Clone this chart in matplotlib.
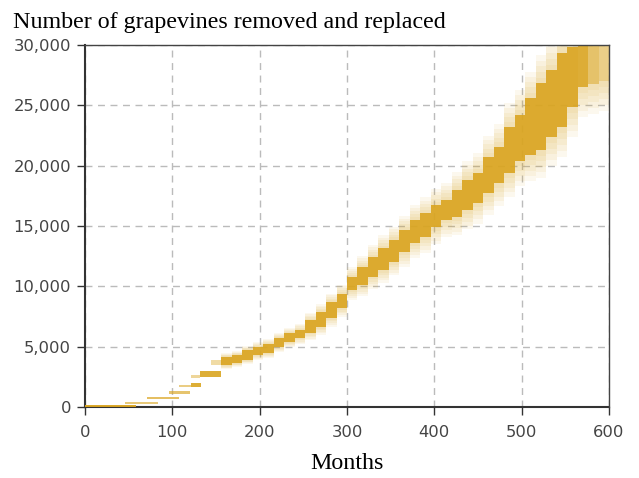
import matplotlib.pyplot as plt
from matplotlib.ticker import FuncFormatter

# Early, separate thin steps (month start, month end, low, high, opacity)
early_start = [0, 46, 71, 96, 108, 121, 121, 132, 144]
early_end = [58, 84, 108, 120, 121, 133, 132, 156, 157]
early_lo = [0, 260, 680, 1100, 1680, 1630, 2380, 2450, 3460]
early_hi = [200, 430, 850, 1290, 1860, 2010, 2620, 2980, 3920]
early_alpha = [0.95, 0.6, 0.7, 0.65, 0.55, 0.9, 0.45, 0.9, 0.4]

# Main fan, one step per year (start month, core low, core high, halo spread)
step_month = [156, 168, 180, 192, 204, 216, 228, 240, 252, 264, 276, 288,
              300, 312, 324, 336, 348, 360, 372, 384, 396, 408, 420, 432,
              444, 456, 468, 480, 492, 504, 516, 528, 540, 552, 564, 576, 588]
core_lo = [3480, 3650, 3900, 4300, 4500, 4970, 5390, 5720, 6130, 6630, 7370, 8200,
           9700, 10110, 10770, 11350, 12020, 12840, 13590, 14090, 14900, 15500, 15740, 16320,
           16900, 17730, 18560, 19390, 20400, 20900, 21290, 22370, 23200, 24850, 26500, 26800, 27000]
core_hi = [4140, 4300, 4720, 5000, 5250, 5720, 6130, 6380, 7200, 7870, 8700, 9400,
           10770, 11600, 12430, 13170, 13840, 14660, 15500, 16070, 16700, 17150, 17980, 18800,
           19380, 20700, 21540, 23200, 24200, 25600, 26840, 27900, 29300, 29800, 30000, 30000, 30000]
spread = [350, 350, 350, 400, 400, 400, 450, 500, 600, 650, 700, 750,
          800, 900, 1000, 1050, 1100, 1200, 1250, 1300, 1400, 1450, 1500, 1600,
          1700, 1800, 1900, 2000, 2100, 2200, 2300, 2400, 2500, 2500, 2500, 2500, 2500]
core_alpha = [0.9] * 34 + [0.85, 0.5, 0.3]

gold = '#DAA520'
step_width = 12

fig = plt.figure(figsize=(6.39, 4.78), dpi=100)
ax = fig.add_axes([85/639, 1-407/478, 524/639, 362/478])

# halo: stacked faint layers give a soft vertical fade around the core
for frac in [1.0, 0.8, 0.6, 0.4, 0.2]:
    lo = [l - s*frac for l, s in zip(core_lo, spread)]
    hi = [h + s*frac for h, s in zip(core_hi, spread)]
    ax.bar(step_month, [h - l for h, l in zip(hi, lo)], bottom=lo, width=step_width,
           align='edge', color=gold, alpha=0.075, linewidth=0, zorder=2)

# core
for m, l, h, a in zip(step_month, core_lo, core_hi, core_alpha):
    ax.bar(m, h - l, bottom=l, width=step_width, align='edge', color=gold,
           alpha=a, linewidth=0, zorder=3)

# early steps
for s, e, l, h, a in zip(early_start, early_end, early_lo, early_hi, early_alpha):
    ax.bar(s, h - l, bottom=l, width=e - s, align='edge', color=gold,
           alpha=a, linewidth=0, zorder=3)

ax.set_xlim(0, 600)
ax.set_ylim(0, 30000)
ax.set_xticks([0, 100, 200, 300, 400, 500, 600])
ax.set_yticks([0, 5000, 10000, 15000, 20000, 25000, 30000])
ax.yaxis.set_major_formatter(FuncFormatter(lambda v, p: '{:,}'.format(int(v))))
ax.grid(True, color='#bbbbbb', linestyle=(0, (5, 4)), linewidth=1, zorder=1)
ax.set_axisbelow(True)

ax.tick_params(direction='out', length=6, width=1, color='#333333',
               labelcolor='#444444', labelsize=11.8)
ax.tick_params(axis='x', pad=7)
ax.tick_params(axis='y', pad=4)
for side in ['left', 'bottom']:
    ax.spines[side].set_color('#333333')
    ax.spines[side].set_linewidth(1.5)
for side in ['top', 'right']:
    ax.spines[side].set_color('#444444')
    ax.spines[side].set_linewidth(1)
    ax.spines[side].set_zorder(5)

fig.text(13/639, 1-28/478, 'Number of grapevines removed and replaced',
         family='Liberation Serif', fontsize=17.3, ha='left', va='baseline')
ax.set_xlabel('Months', family='Liberation Serif', fontsize=17.3, labelpad=9)

plt.savefig('out.png', dpi=100, facecolor='white')
